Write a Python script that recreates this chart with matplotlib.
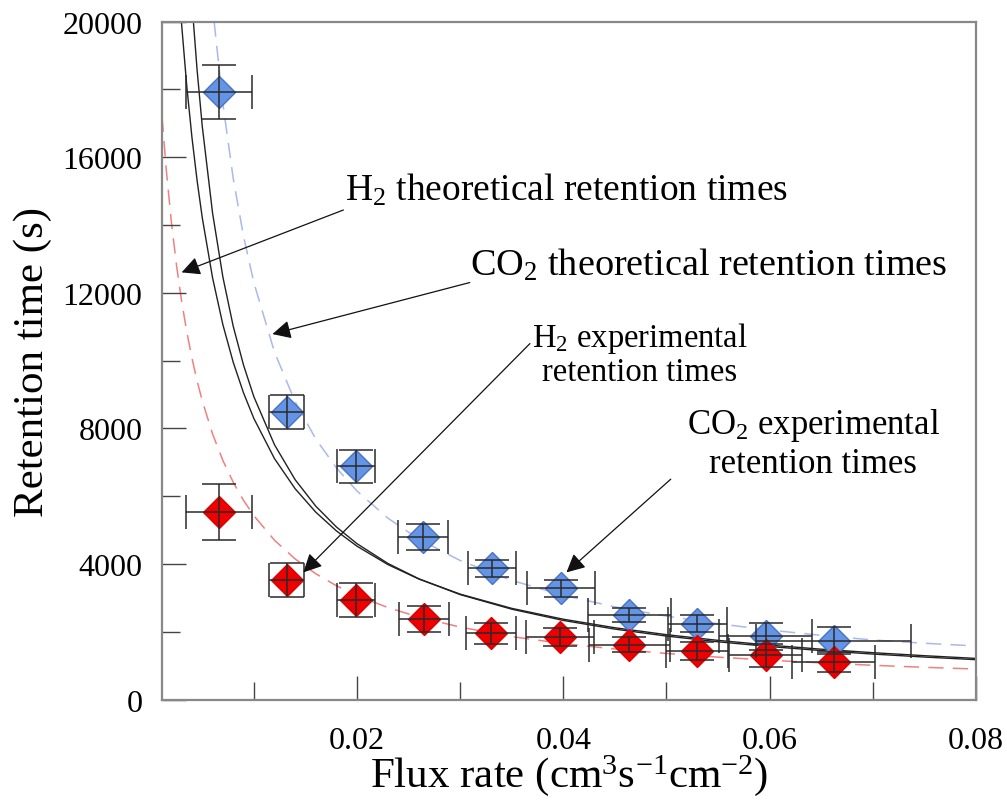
import matplotlib
matplotlib.use("Agg")
import matplotlib.pyplot as plt
from matplotlib.ticker import MultipleLocator, FixedLocator

plt.rcParams['font.family'] = ['Liberation Serif', 'DejaVu Serif']
plt.rcParams['mathtext.fontset'] = 'custom'
plt.rcParams['mathtext.rm'] = 'Liberation Serif'
plt.rcParams['mathtext.default'] = 'regular'

co2_x = [0.0066, 0.0132, 0.0199, 0.0264, 0.0331, 0.0398, 0.0464, 0.0530, 0.0596, 0.0662]
co2_y = [17930, 8470, 6880, 4790, 3870, 3280, 2490, 2230, 1860, 1740]
co2_yerr = [800, 500, 480, 390, 250, 260, 210, 250, 400, 390]
co2_xerr = [0.0032, 0.0017, 0.0018, 0.0024, 0.0023, 0.0033, 0.0040, 0.0029, 0.0045, 0.0075]

h2_x = [0.0066, 0.0132, 0.0199, 0.0265, 0.0330, 0.0397, 0.0464, 0.0530, 0.0596, 0.0662]
h2_y = [5540, 3525, 2935, 2375, 1950, 1835, 1610, 1440, 1300, 1100]
h2_yerr = [820, 510, 490, 390, 300, 270, 220, 270, 350, 300]
h2_xerr = [0.0032, 0.0017, 0.0018, 0.0024, 0.0024, 0.0033, 0.0039, 0.0030, 0.0035, 0.0040]

# ---- curves ----
h2_dash_x = [0.0011, 0.0015, 0.002, 0.0025, 0.003, 0.0035, 0.004, 0.0045, 0.005, 0.006, 0.007,
             0.008, 0.009, 0.010, 0.012, 0.014, 0.016, 0.018, 0.020, 0.023, 0.026, 0.030,
             0.035, 0.040, 0.045, 0.050, 0.055, 0.060, 0.065, 0.070, 0.075, 0.080]
h2_dash_y = [17195, 15667, 14100, 12818, 11750, 10846, 10071, 9400, 8813, 7833, 7050,
             6409, 5875, 5423, 4700, 4147, 3711, 3357, 3065, 2712, 2431, 2136,
             1855, 1650, 1490, 1360, 1250, 1160, 1080, 1010, 950, 900]

co2_dash_x = [0.00615, 0.007, 0.008, 0.009, 0.010, 0.012, 0.014, 0.016, 0.018, 0.020, 0.023,
              0.026, 0.030, 0.035, 0.040, 0.045, 0.050, 0.055, 0.060, 0.065, 0.070, 0.075, 0.080]
co2_dash_y = [20000, 17570, 15375, 13667, 12300, 10250, 8786, 7688, 6833, 6150, 5348,
              4731, 4100, 3514, 3075, 2733, 2460, 2236, 2050, 1892, 1757, 1660, 1580]

theo_a_x = [0.00414, 0.0045, 0.005, 0.006, 0.007, 0.008, 0.009, 0.010, 0.012, 0.014, 0.016,
            0.018, 0.020, 0.023, 0.026, 0.030, 0.035, 0.040, 0.045, 0.050, 0.055, 0.060,
            0.065, 0.070, 0.075, 0.080]
theo_a_y = [20000, 18569, 16911, 14348, 12461, 11012, 9865, 8934, 7516, 6486, 5705,
            5091, 4597, 4013, 3560, 3095, 2665, 2333, 2077, 1872, 1703, 1563,
            1444, 1341, 1253, 1175]

theo_b_x = [0.002975, 0.0035, 0.004, 0.0045, 0.005, 0.006, 0.007, 0.008, 0.009, 0.010, 0.012,
            0.014, 0.016, 0.018, 0.020, 0.023, 0.026, 0.030, 0.035, 0.040, 0.045, 0.050,
            0.055, 0.060, 0.065, 0.070, 0.075, 0.080]
theo_b_y = [20000, 18091, 16583, 15308, 14214, 12438, 11056, 9950, 9045, 8292, 7107,
            6219, 5528, 4975, 4523, 3980, 3554, 3109, 2689, 2369, 2117, 1913,
            1745, 1604, 1485, 1382, 1293, 1213]

fig = plt.figure(figsize=(10.07, 8.04), dpi=100)
ax = fig.add_axes([0.1609, 0.1287, 0.8083, 0.8433])

ax.plot(h2_dash_x, h2_dash_y, color='#f08080', lw=1.1, dashes=(10, 6), zorder=1)
ax.plot(co2_dash_x, co2_dash_y, color='#a9b9ea', lw=1.1, dashes=(10, 6), zorder=1)
ax.plot(theo_a_x, theo_a_y, color='#222222', lw=1.0, zorder=1.5)
ax.plot(theo_b_x, theo_b_y, color='#222222', lw=1.0, zorder=1.5)

ax.plot(co2_x, co2_y, 'D', ms=16, color='#6494e6', mec='#4a72c4', mew=1.0, zorder=2, ls='none')
ax.plot(h2_x, h2_y, 'D', ms=16, color='#ee0000', mec='#dd0000', mew=1.0, zorder=2, ls='none')
ax.errorbar(co2_x, co2_y, yerr=co2_yerr, xerr=co2_xerr, fmt='none', ecolor='#2a2a2a',
            elinewidth=1.1, capsize=12, capthick=1.1, zorder=3)
ax.errorbar(h2_x, h2_y, yerr=h2_yerr, xerr=h2_xerr, fmt='none', ecolor='#2a2a2a',
            elinewidth=1.1, capsize=12, capthick=1.1, zorder=3)

ax.set_xlim(0.0011, 0.08)
ax.set_ylim(0, 20000)
ax.xaxis.set_major_locator(FixedLocator([0.02, 0.04, 0.06, 0.08]))
ax.xaxis.set_minor_locator(FixedLocator([0.01, 0.03, 0.05, 0.07]))
ax.yaxis.set_major_locator(MultipleLocator(4000))
ax.yaxis.set_minor_locator(MultipleLocator(2000))
ax.xaxis.set_major_formatter(matplotlib.ticker.FuncFormatter(lambda v, p: f"{v:.2f}"))
ax.yaxis.set_major_formatter(matplotlib.ticker.FuncFormatter(lambda v, p: f"{int(round(v))}"))
ax.tick_params(which='major', direction='in', length=17, width=1.0, color='#444444',
               labelsize=23, top=False, right=False)
ax.tick_params(which='minor', direction='in', length=13, width=1.0, color='#444444',
               top=False, right=False)
ax.tick_params(axis='x', which='major', pad=19)
ax.tick_params(axis='y', which='major', pad=14)
for s in ax.spines.values():
    s.set_color('#888888')
    s.set_linewidth(1.6)

ax.set_ylabel('Retention time (s)', fontsize=31)
ax.set_xlabel('Flux rate (cm$^3$s$^{-1}$cm$^{-2}$)', fontsize=31)
ax.yaxis.set_label_coords(-0.135, 0.5)
ax.xaxis.set_label_coords(0.5, -0.078)

arrow = dict(arrowstyle='-|>', color='#111111', lw=0.9, mutation_scale=28, shrinkA=0, shrinkB=0)
ax.annotate('', xy=(0.0030, 12600), xytext=(0.2228, 0.722), textcoords='axes fraction', arrowprops=arrow)
ax.text(0.2248, 0.753, 'H$_2$ theoretical retention times', transform=ax.transAxes,
        fontsize=27, ha='left', va='center')
ax.annotate('', xy=(0.0118, 10780), xytext=(0.378, 0.615), textcoords='axes fraction', arrowprops=arrow)
ax.text(0.378, 0.642, 'CO$_2$ theoretical retention times', transform=ax.transAxes,
        fontsize=27.5, ha='left', va='center')
ax.annotate('', xy=(0.0148, 3750), xytext=(0.452, 0.525), textcoords='axes fraction', arrowprops=arrow)
ax.text(0.587, 0.51, 'H$_2$ experimental\nretention times', transform=ax.transAxes,
        fontsize=23.5, ha='center', va='center', linespacing=1.05)
ax.annotate('', xy=(0.0403, 3750), xytext=(0.625, 0.325), textcoords='axes fraction', arrowprops=arrow)
ax.text(0.80, 0.378, 'CO$_2$ experimental\nretention times', transform=ax.transAxes,
        fontsize=25, ha='center', va='center', linespacing=1.15)

fig.savefig('out.png', dpi=100)
